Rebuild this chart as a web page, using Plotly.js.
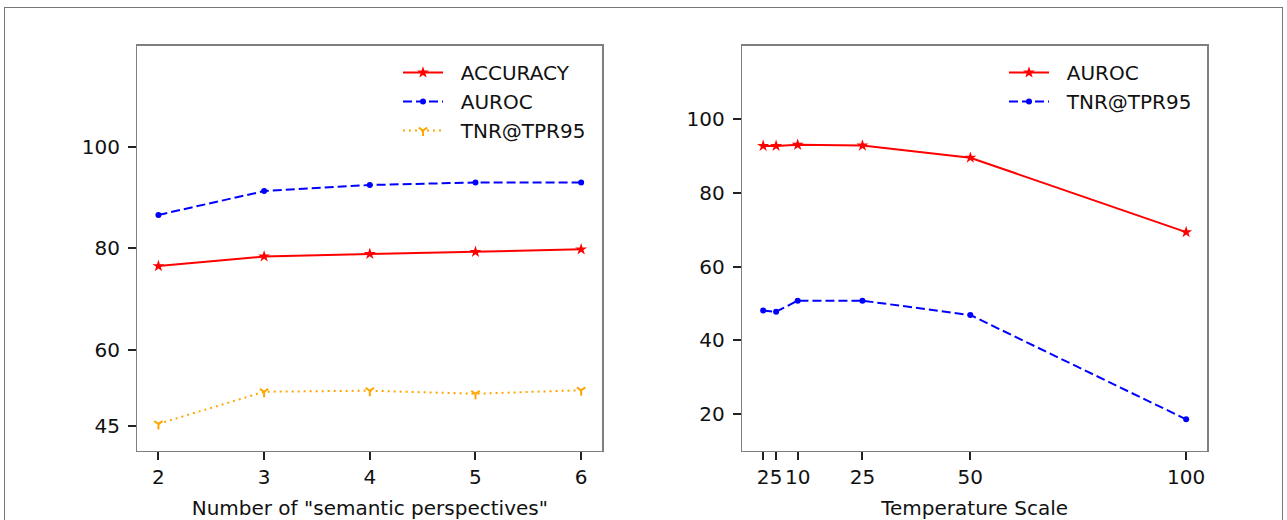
<!DOCTYPE html>
<html>
<head>
<meta charset="utf-8">
<script src="https://cdn.plot.ly/plotly-3.0.1.min.js"></script>
<style>
  html, body { margin: 0; padding: 0; background: #fff; }
  #wrap { position: relative; width: 1287px; height: 520px; overflow: hidden; }
  #chart { width: 1287px; height: 520px; }
  #frame { position: absolute; left: 4px; top: 7px; width: 1279px; height: 530px;
           border: 1.5px solid #777; pointer-events: none; box-sizing: border-box; }
</style>
</head>
<body>
<div id="wrap">
  <div id="chart"></div>
  <div id="frame"></div>
</div>
<script>
// ---- Left panel data ----
const perspectives = [2, 3, 4, 5, 6];
const leftAccuracy = [76.5, 78.4, 78.9, 79.3, 79.8];
const leftAuroc    = [86.6, 91.3, 92.5, 93.0, 93.0];
const leftTnr      = [45.35, 51.7, 51.9, 51.3, 52.0];
const leftYTicks   = [45, 60, 80, 100];

// ---- Right panel data ----
const temperatures = [2, 5, 10, 25, 50, 100];
const rightAuroc   = [92.8, 92.8, 93.1, 92.9, 89.6, 69.4];
const rightTnr     = [48.1, 47.8, 50.8, 50.8, 46.9, 18.6];
const rightXTicks  = [2, 5, 10, 25, 50, 100];
const rightYTicks  = [20, 40, 60, 80, 100];

const FONT = 'DejaVu Sans, Liberation Sans, sans-serif';
const FS = 20;
const RED = '#ff0000', BLUE = '#0000ff', ORANGE = '#ffa500';
const GAP = '\u00a0\u00a0'; // extra gap between legend sample and label

const traces = [
  { x: perspectives, y: leftAccuracy, name: GAP + 'ACCURACY', type: 'scatter', mode: 'lines+markers',
    xaxis: 'x', yaxis: 'y', legend: 'legend',
    line: { color: RED, width: 2 }, marker: { symbol: 'star', size: 9, color: RED } },
  { x: perspectives, y: leftAuroc, name: GAP + 'AUROC', type: 'scatter', mode: 'lines+markers',
    xaxis: 'x', yaxis: 'y', legend: 'legend',
    line: { color: BLUE, width: 2, dash: '9px,4px' }, marker: { symbol: 'circle', size: 6, color: BLUE } },
  { x: perspectives, y: leftTnr, name: GAP + 'TNR@TPR95', type: 'scatter', mode: 'lines+markers',
    xaxis: 'x', yaxis: 'y', legend: 'legend',
    line: { color: ORANGE, width: 2, dash: '2px,4px' },
    marker: { symbol: 'y-down', size: 7, color: ORANGE, line: { color: ORANGE, width: 2 } } },
  { x: temperatures, y: rightAuroc, name: GAP + 'AUROC', type: 'scatter', mode: 'lines+markers',
    xaxis: 'x2', yaxis: 'y2', legend: 'legend2',
    line: { color: RED, width: 2 }, marker: { symbol: 'star', size: 9, color: RED } },
  { x: temperatures, y: rightTnr, name: GAP + 'TNR@TPR95', type: 'scatter', mode: 'lines+markers',
    xaxis: 'x2', yaxis: 'y2', legend: 'legend2',
    line: { color: BLUE, width: 2, dash: '9px,4px' }, marker: { symbol: 'circle', size: 6, color: BLUE } }
];

const axisCommon = {
  showgrid: false, zeroline: false, showline: true, mirror: true,
  linecolor: '#7f7f7f', linewidth: 1.3,
  ticks: 'outside', ticklen: 8, tickwidth: 2, tickcolor: '#222',
  tickfont: { family: FONT, size: FS, color: '#111' }
};

const layout = {
  width: 1287, height: 520,
  margin: { l: 0, r: 0, t: 0, b: 0 },
  paper_bgcolor: '#fff', plot_bgcolor: '#fff',
  font: { family: FONT, size: FS, color: '#111' },
  xaxis: Object.assign({}, axisCommon, {
    domain: [137.3 / 1287, 602.3 / 1287], anchor: 'y',
    range: [1.8, 6.2], tickmode: 'array', tickvals: perspectives, tickangle: 0,
    title: { text: 'Number of "semantic perspectives"', font: { family: FONT, size: FS, color: '#111' }, standoff: 14 }
  }),
  yaxis: Object.assign({}, axisCommon, {
    domain: [1 - 451 / 520, 1 - 45.7 / 520], anchor: 'x',
    range: [40, 120], tickmode: 'array', tickvals: leftYTicks, ticklabelstandoff: 4
  }),
  xaxis2: Object.assign({}, axisCommon, {
    domain: [742 / 1287, 1207.3 / 1287], anchor: 'y2',
    range: [-2.9, 104.9], tickmode: 'array', tickvals: rightXTicks, tickangle: 0,
    title: { text: 'Temperature Scale', font: { family: FONT, size: FS, color: '#111' }, standoff: 14 }
  }),
  yaxis2: Object.assign({}, axisCommon, {
    domain: [1 - 451 / 520, 1 - 45.7 / 520], anchor: 'x2',
    range: [10, 120], tickmode: 'array', tickvals: rightYTicks, ticklabelstandoff: 4
  }),
  legend: {
    x: 398 / 1287, xanchor: 'left', y: 1 - 53 / 520, yanchor: 'top',
    bgcolor: 'rgba(0,0,0,0)', borderwidth: 0, itemwidth: 40,
    font: { family: FONT, size: FS, color: '#111' }
  },
  legend2: {
    x: 1004 / 1287, xanchor: 'left', y: 1 - 53 / 520, yanchor: 'top',
    bgcolor: 'rgba(0,0,0,0)', borderwidth: 0, itemwidth: 40,
    font: { family: FONT, size: FS, color: '#111' }
  }
};

Plotly.newPlot('chart', traces, layout, { displayModeBar: false, staticPlot: true });
</script>
</body>
</html>
